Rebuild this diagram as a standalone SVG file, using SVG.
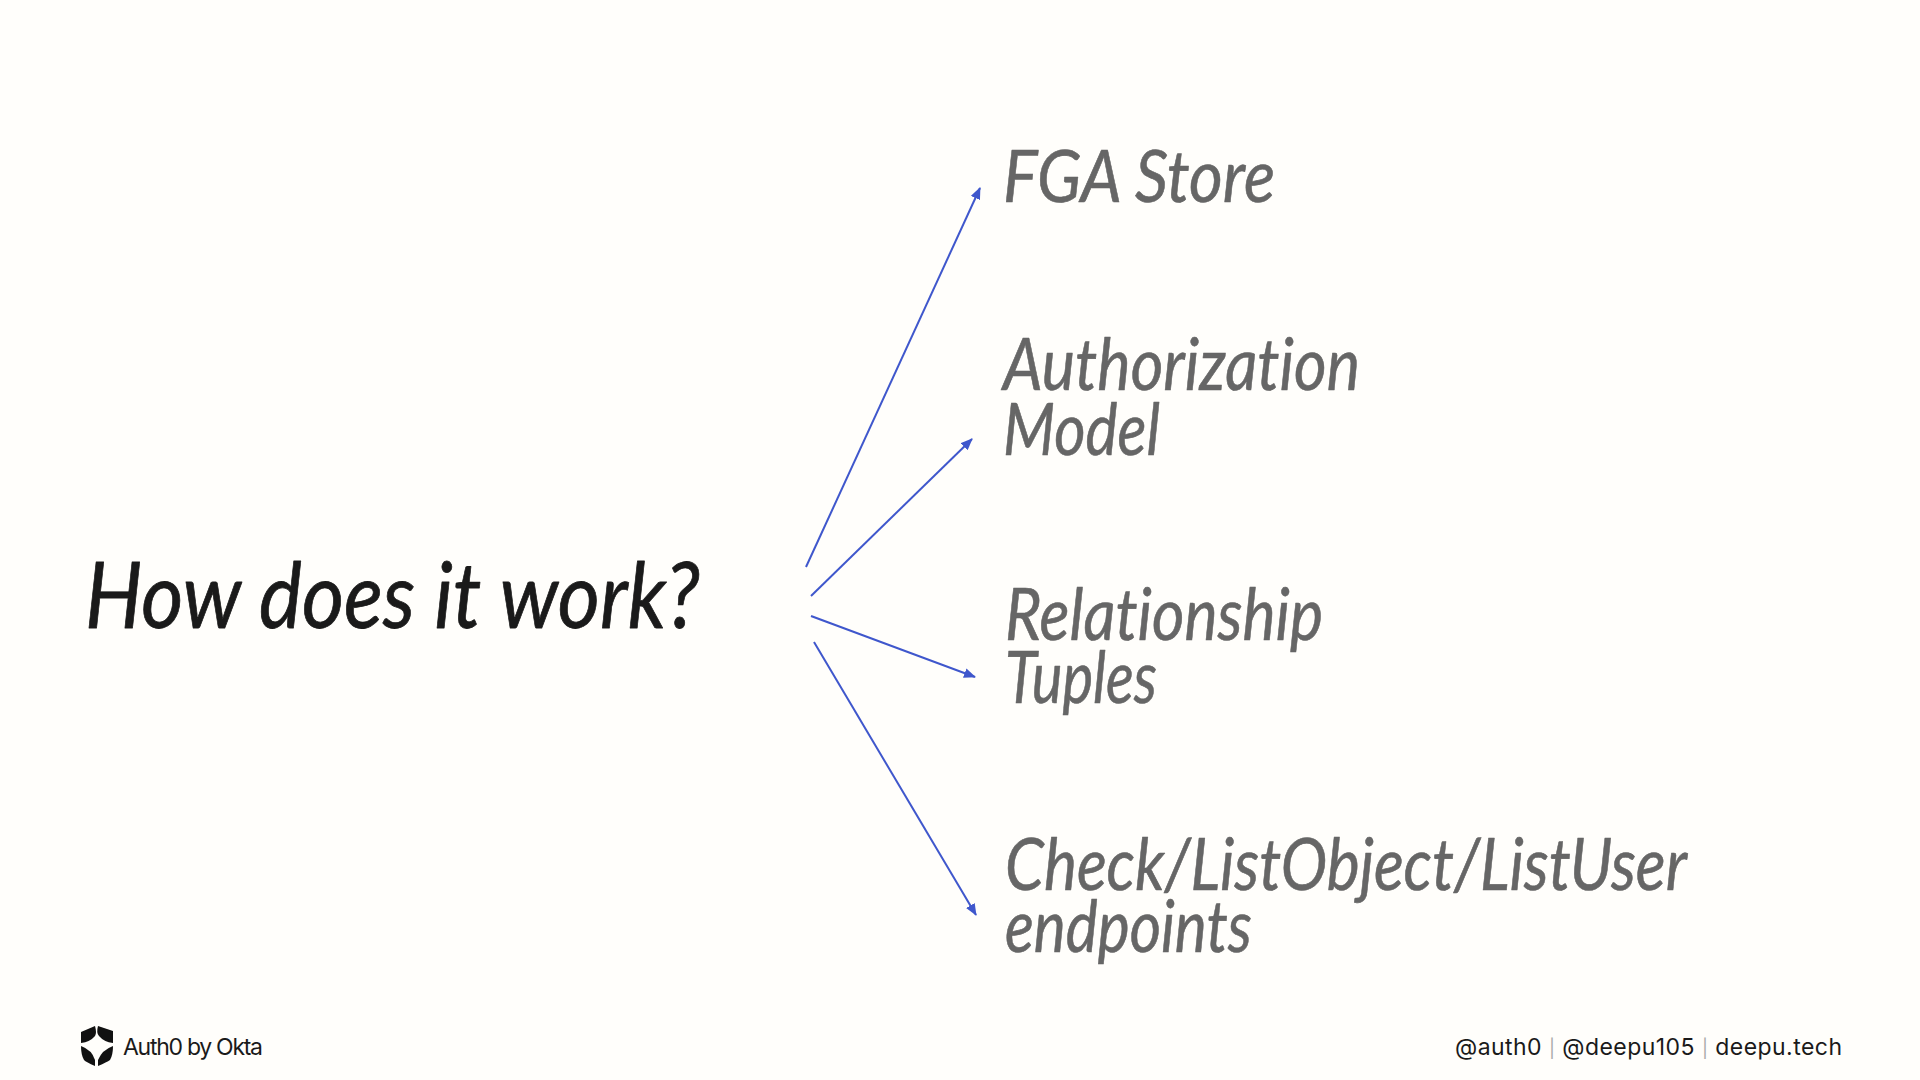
<svg xmlns="http://www.w3.org/2000/svg" width="1920" height="1080" viewBox="0 0 1920 1080">
<style>
.h{font-family:Lato,"Open Sans",sans-serif;font-style:italic;font-variant-ligatures:none;stroke-linejoin:round;stroke-linecap:round}
.t{font-size:92px;fill:#1a1a1a;stroke:#1a1a1a;stroke-width:.8px}
.l{font-size:72px;fill:#666666;stroke:#666666;stroke-width:.6px}
.f{font-family:Inter,"Liberation Sans",sans-serif;font-size:23px;fill:#1a1a1a}
.s{fill:#a8a8a8;font-size:18px}
.c line{stroke:#3f57cc;stroke-width:2;marker-end:url(#a)}
</style>
<defs><marker id="a" markerUnits="userSpaceOnUse" markerWidth="12" markerHeight="10" refX="11" refY="5" orient="auto"><path d="M0 0L12 5L0 10Z" fill="#3f57cc"/></marker></defs>
<rect width="1920" height="1080" fill="#fffefb"/>
<g id="title"><text class="h t" x="85" y="628" textLength="615" lengthAdjust="spacingAndGlyphs">How does it work?</text></g>
<g id="connectors" class="c">
<line x1="806" y1="567" x2="980" y2="188"/>
<line x1="811" y1="596" x2="972" y2="439"/>
<line x1="811" y1="616" x2="975" y2="677"/>
<line x1="814" y1="642" x2="976" y2="915"/>
</g>
<g id="n1"><text class="h l" x="1003" y="202" textLength="272" lengthAdjust="spacingAndGlyphs">FGA Store</text></g>
<g id="n2"><text class="h l" x="1003" y="390" textLength="357" lengthAdjust="spacingAndGlyphs">Authorization</text><text class="h l" x="1003" y="455" textLength="157" lengthAdjust="spacingAndGlyphs">Model</text></g>
<g id="n3"><text class="h l" x="1005" y="640" textLength="318" lengthAdjust="spacingAndGlyphs">Relationship</text><text class="h l" x="1005" y="703" textLength="152" lengthAdjust="spacingAndGlyphs">Tuples</text></g>
<g id="n4"><text class="h l" x="1005" y="890" textLength="682" lengthAdjust="spacingAndGlyphs">Check/ListObject/ListUser</text><text class="h l" x="1005" y="952" textLength="247" lengthAdjust="spacingAndGlyphs">endpoints</text></g>
<g id="logo" fill="#111"><path d="M81 1032L95 1026Q97 1033 95 1036Q90 1042 81 1043Z"/><path d="M113 1031L98 1026Q96 1033 99 1036Q104 1042 113 1043Z"/><path d="M81 1046Q92 1050 95 1060L95 1066Q86 1062 84 1060Q81 1055 81 1046Z"/><path d="M113 1046Q102 1050 98 1060L98 1066Q107 1062 110 1060Q113 1055 113 1046Z"/></g>
<g id="brand"><text class="f" x="123" y="1055" textLength="140" lengthAdjust="spacing">Auth0 by Okta</text></g>
<g id="handles"><text class="f" x="1455" y="1055" textLength="387" lengthAdjust="spacing">@auth0 <tspan class="s">|</tspan> @deepu105 <tspan class="s">|</tspan> deepu.tech</text></g>
</svg>
